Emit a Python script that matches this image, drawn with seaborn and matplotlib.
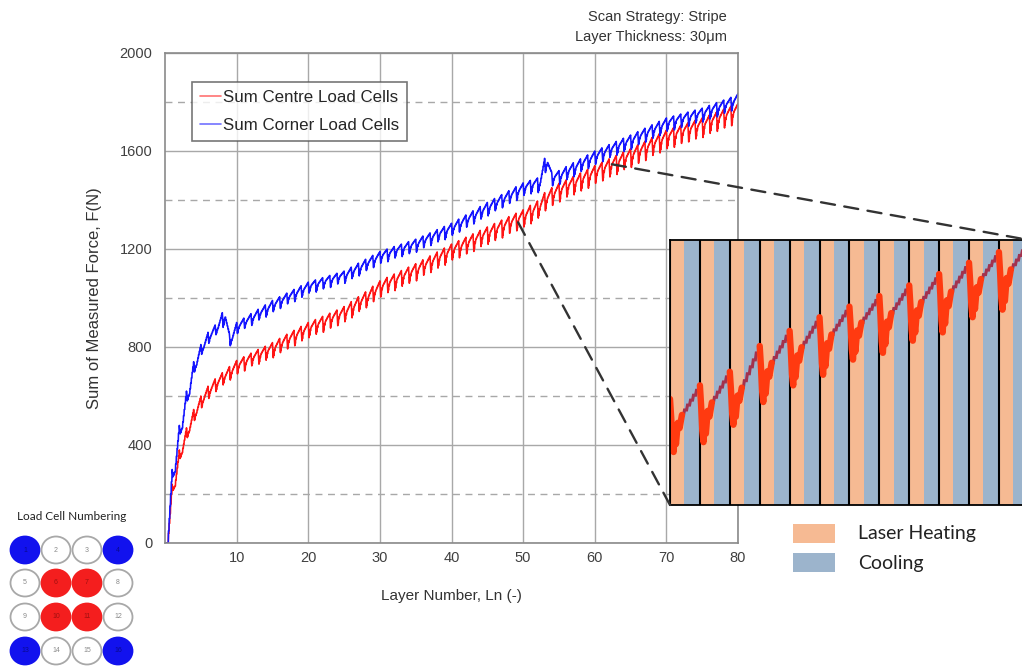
import numpy as np
import pandas as pd
import matplotlib
matplotlib.use("Agg")
import matplotlib.pyplot as plt
import seaborn as sns
from matplotlib.patches import Ellipse, Rectangle, ConnectionPatch
from matplotlib.ticker import MultipleLocator

# ---------------------------------------------------------------- data
layer_number = list(range(1, 81))

# force at the end of each layer (N) and depth of the laser-heating dip (N)
centre_peak = [240, 380, 470, 545, 600, 640, 670, 695, 720, 745,
               760, 775, 790, 803, 818, 835, 852, 868, 884, 900,
               912, 925, 938, 951, 965, 985, 1005, 1025, 1048, 1070,
               1084, 1098, 1112, 1126, 1140, 1156, 1172, 1188, 1204, 1220,
               1234, 1248, 1262, 1276, 1290, 1304, 1318, 1332, 1346, 1360,
               1378, 1396, 1430, 1450, 1468, 1482, 1496, 1510, 1525, 1540,
               1554, 1568, 1582, 1596, 1610, 1625, 1640, 1655, 1670, 1685,
               1695, 1705, 1715, 1725, 1735, 1747, 1759, 1771, 1783, 1795]
centre_drop = [0, 25, 35, 40, 45, 48, 50, 52, 50, 55,
               55, 58, 52, 60, 57, 62, 58, 60, 63, 59,
               62, 60, 65, 61, 64, 62, 66, 60, 65, 63,
               66, 62, 68, 64, 66, 70, 63, 68, 66, 70,
               65, 70, 68, 72, 66, 71, 69, 73, 68, 72,
               70, 75, 70, 74, 72, 76, 70, 75, 73, 77,
               72, 76, 74, 78, 72, 77, 75, 79, 73, 78,
               75, 80, 74, 78, 76, 80, 75, 79, 77, 80]
corner_peak = [300, 480, 620, 740, 810, 860, 890, 940, 850, 900,
               918, 936, 954, 972, 990, 1005, 1020, 1035, 1050, 1065,
               1074, 1083, 1092, 1101, 1110, 1126, 1142, 1158, 1174, 1190,
               1200, 1210, 1220, 1230, 1240, 1253, 1266, 1279, 1292, 1305,
               1322, 1339, 1356, 1373, 1390, 1406, 1422, 1438, 1454, 1470,
               1480, 1490, 1570, 1510, 1520, 1536, 1552, 1568, 1584, 1600,
               1613, 1626, 1639, 1652, 1665, 1679, 1693, 1707, 1721, 1735,
               1743, 1751, 1759, 1767, 1775, 1786, 1797, 1808, 1819, 1835]
corner_drop = [0, 30, 35, 40, 42, 40, 45, 40, 60, 45,
               45, 42, 48, 44, 50, 46, 48, 44, 50, 47,
               45, 50, 46, 49, 44, 50, 47, 52, 46, 50,
               48, 52, 47, 51, 49, 53, 48, 52, 50, 54,
               49, 53, 50, 54, 51, 55, 50, 54, 52, 56,
               51, 55, 60, 58, 52, 56, 53, 57, 52, 56,
               54, 57, 52, 56, 54, 58, 53, 57, 55, 58,
               54, 57, 55, 58, 53, 57, 55, 58, 54, 56]

series_labels = ["Sum Centre Load Cells", "Sum Corner Load Cells"]
series_colors = ["#FF1414", "#1414FF"]

x_tick_values = [10, 20, 30, 40, 50, 60, 70, 80]
y_tick_values = [0, 400, 800, 1200, 1600, 2000]

header_lines = ["Scan Strategy: Stripe", "Layer Thickness: 30μm"]
x_label = "Layer Number, Ln (-)"
y_label = "Sum of Measured Force, F(N)"

zoom_layers = (50, 62)
zoom_force = (1220, 1570)
phase_labels = ["Laser Heating", "Cooling"]
phase_colors = ["#F6BA93", "#9CB4CC"]
heating_fraction = 0.48

cell_title = "Load Cell Numbering"
cell_numbers = list(range(1, 17))
cell_groups = ["corner", "edge", "edge", "corner",
               "edge", "centre", "centre", "edge",
               "edge", "centre", "centre", "edge",
               "corner", "edge", "edge", "corner"]
group_fill = {"corner": "#1212EE", "centre": "#F41E1E", "edge": "white"}
group_edge = {"corner": "#1212EE", "centre": "#F41E1E", "edge": "#A8A8A8"}
group_text = {"corner": "#0A0A90", "centre": "#A01010", "edge": "#8A8A8A"}

# ------------------------------------------------ per-layer signal shape
# laser pass: sharp dip and jagged recovery; cooling: stepwise rise
heat_t = [0.00, 0.04, 0.08, 0.12, 0.16, 0.20, 0.26, 0.32, 0.40]
heat_f = [0.00, 0.35, 0.80, 1.00, 0.60, 0.85, 0.45, 0.55, 0.30]
n_steps = 6


def layer_trace(peaks, drops):
    xs, ys, heat = [], [], []
    prev = 0.0
    for i, (peak, drop) in enumerate(zip(peaks, drops)):
        for t, f in zip(heat_t, heat_f):
            xs.append(i + t)
            ys.append(prev - f * drop)
            heat.append(True)
        start = ys[-1]
        dt = (1.0 - heat_t[-1]) / n_steps
        for k in range(n_steps):
            lo = start + (peak - start) * k / n_steps
            hi = start + (peak - start) * (k + 1) / n_steps
            tx = heat_t[-1] + dt * k + dt * 0.55
            xs += [i + tx, i + tx + dt * 0.3]
            ys += [lo, hi]
            heat += [False, False]
        xs.append(i + 1.0)
        ys.append(peak)
        heat.append(False)
        prev = peak
    return np.array(xs), np.array(ys), np.array(heat)


cx, cy, cheat = layer_trace(centre_peak, centre_drop)
kx, ky, _ = layer_trace(corner_peak, corner_drop)

df = pd.concat([
    pd.DataFrame({"layer": cx, "force": cy, "series": series_labels[0]}),
    pd.DataFrame({"layer": kx, "force": ky, "series": series_labels[1]}),
], ignore_index=True)

# ------------------------------------------------------------- figure
sns.set_style("white")
plt.rcParams["font.family"] = ["Liberation Sans", "DejaVu Sans"]

W, H = 1022, 666
fig = plt.figure(figsize=(W / 100, H / 100), dpi=100)
ax = fig.add_axes([165 / W, 1 - 543 / H, 573 / W, 490 / H])

sns.lineplot(data=df, x="layer", y="force", hue="series",
             palette=dict(zip(series_labels, series_colors)),
             sort=False, estimator=None, lw=1.15, ax=ax)

ax.set_xlim(0, 80)
ax.set_ylim(0, 2000)
ax.set_xticks(x_tick_values)
ax.set_yticks(y_tick_values)
ax.xaxis.set_minor_locator(MultipleLocator(5))
ax.yaxis.set_minor_locator(MultipleLocator(200))
ax.set_axisbelow(True)
ax.grid(which="major", color="#A8A8A8", lw=1.0, ls="-")
ax.grid(which="minor", axis="y", color="#A8A8A8", lw=1.0, ls=(0, (5, 4)))
ax.tick_params(which="major", length=0, labelsize=10.5, labelcolor="#404040")
ax.tick_params(axis="y", which="major", pad=9)
ax.tick_params(axis="x", which="major", pad=6)
ax.tick_params(axis="x", which="minor", direction="in", length=3, color="#888888")
ax.tick_params(axis="y", which="minor", length=0)
for sp in ax.spines.values():
    sp.set_color("#8A8A8A")
    sp.set_linewidth(1.2)
ax.set_xlabel(x_label, fontsize=11, color="#333333", labelpad=17)
ax.set_ylabel(y_label, fontsize=12, color="#333333", labelpad=13)

handles, labels = ax.get_legend_handles_labels()
leg = ax.legend(handles, labels, loc="upper left", bbox_to_anchor=(0.047, 0.941),
                fontsize=12.2, frameon=True, fancybox=False, edgecolor="#555555",
                handlelength=1.25, handletextpad=0.15, borderpad=0.45,
                labelspacing=0.8, borderaxespad=0)
leg.get_frame().set_linewidth(1.2)
for line in leg.get_lines():
    line.set_linewidth(1.2)
    line.set_alpha(0.6)

for i, txt in enumerate(header_lines):
    fig.text(727 / W, 1 - (17 + 20 * i) / H, txt, ha="right", va="center",
             fontsize=10.5, color="#333333")

# ------------------------------------------------- magnified layer view
lo, hi = zoom_layers
axins = fig.add_axes([670 / W, 1 - 505 / H, (hi - lo) * 29.9 / W, 265 / H])
for start in range(lo, hi):
    axins.axvspan(start, start + heating_fraction, color=phase_colors[0], lw=0)
    axins.axvspan(start + heating_fraction, start + 1, color=phase_colors[1], lw=0)
    axins.axvline(start, color="black", lw=1.5)
axins.plot(cx, cy, color="#A3324E", lw=2.2, solid_joinstyle="miter")
axins.plot(cx, np.where(cheat, cy, np.nan), color="#FF3A10", lw=4.6)
axins.set_xlim(lo, hi)
axins.set_ylim(*zoom_force)
axins.set_xticks([])
axins.set_yticks([])
for sp in axins.spines.values():
    sp.set_color("black")
    sp.set_linewidth(1.3)

for xa, corner in [(lo - 0.7, (0, 0)), (hi + 0.4, (1, 1))]:
    ya = np.interp(xa, cx, cy)
    cp = ConnectionPatch(xyA=(xa, ya), coordsA=ax.transData,
                         xyB=corner, coordsB=axins.transAxes,
                         color="#333333", lw=1.7, ls=(0, (6, 4)))
    fig.add_artist(cp)

# phase key
for i, (lab, col) in enumerate(zip(phase_labels, phase_colors)):
    y_top = 524 + 29 * i
    fig.add_artist(Rectangle((793 / W, 1 - (y_top + 19) / H), 42 / W, 19 / H,
                             transform=fig.transFigure, facecolor=col, lw=0))
    fig.text(858 / W, 1 - (y_top + 10) / H, lab, ha="left", va="center",
             fontsize=14, color="#222222", family=["Lato", "DejaVu Sans"])

# ------------------------------------------------ load cell arrangement
cell_ax = fig.add_axes([0, 0, 140 / W, 136 / H])
cell_ax.set_xlim(0, 140)
cell_ax.set_ylim(666, 530)
cell_ax.axis("off")
col_x = [25, 56, 87, 118]
row_y = [550, 583, 617, 651]
for idx, (num, grp) in enumerate(zip(cell_numbers, cell_groups)):
    r, c = divmod(idx, 4)
    cell_ax.add_patch(Ellipse((col_x[c], row_y[r]), 29, 27,
                              facecolor=group_fill[grp], edgecolor=group_edge[grp], lw=1.3))
    cell_ax.text(col_x[c], row_y[r], str(num), ha="center", va="center",
                 fontsize=5, color=group_text[grp])
fig.text(72 / W, 1 - 516 / H, cell_title, ha="center", va="center",
         fontsize=8.5, color="#222222", family=["Lato", "DejaVu Sans"])

fig.savefig("out.png", dpi=100)
